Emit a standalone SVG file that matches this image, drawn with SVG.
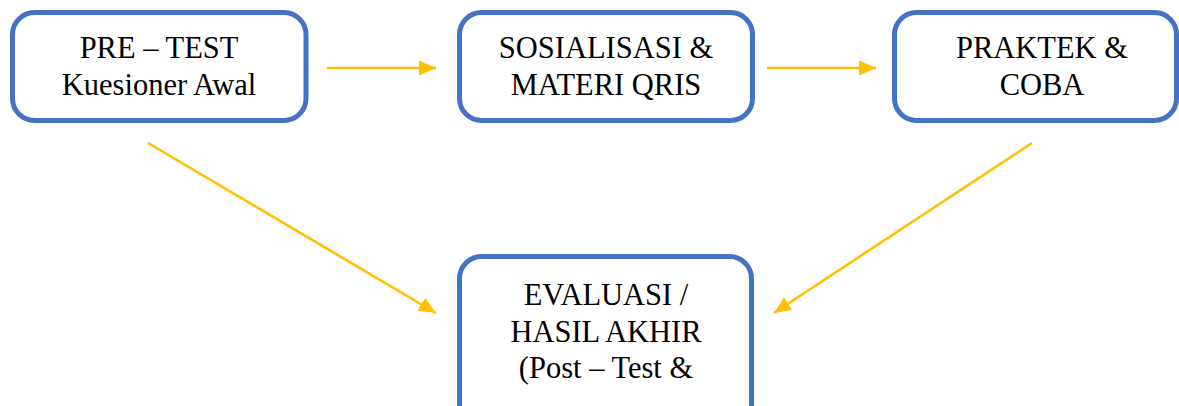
<svg xmlns="http://www.w3.org/2000/svg" width="1179" height="406" viewBox="0 0 1179 406">
<style>
.box{fill:#fff;stroke:#4472C4;stroke-width:5}
.c{stroke:#FFC000;stroke-width:2.6;fill:none}
</style>
<defs>
<marker id="ah" markerUnits="userSpaceOnUse" markerWidth="18" markerHeight="16" refX="17" refY="8" orient="auto">
<path d="M0,0.5 L17,8 L0,15.5 z" fill="#FFC000"/>
</marker>
</defs>
<rect width="1179" height="406" fill="#fff"/>
<g font-family="Liberation Serif, DejaVu Serif, serif" font-size="30.5" fill="#000" text-anchor="middle">
<g id="n1">
<rect class="box" x="12.5" y="12.5" width="293.5" height="108" rx="22"/>
<text x="159" y="58">PRE – TEST</text>
<text x="159" y="95">Kuesioner Awal</text>
</g>
<g id="n2">
<rect class="box" x="459.5" y="12.5" width="293" height="108" rx="22"/>
<text x="606" y="58">SOSIALISASI &amp;</text>
<text x="606" y="95">MATERI QRIS</text>
</g>
<g id="n3">
<rect class="box" x="894.5" y="12.5" width="282" height="108" rx="22"/>
<text x="1042" y="58">PRAKTEK &amp;</text>
<text x="1042" y="95">COBA</text>
</g>
<g id="n4">
<rect class="box" x="459.5" y="256.5" width="292" height="170" rx="22"/>
<text x="606" y="305">EVALUASI /</text>
<text x="606" y="341.5">HASIL AKHIR</text>
<text x="606" y="377.5">(Post – Test &amp;</text>
</g>
</g>
<g id="connectors">
<line class="c" x1="327" y1="68" x2="436" y2="68" marker-end="url(#ah)"/>
<line class="c" x1="767" y1="68" x2="876" y2="68" marker-end="url(#ah)"/>
<line class="c" x1="148" y1="143" x2="436" y2="313" marker-end="url(#ah)"/>
<line class="c" x1="1032" y1="143" x2="774" y2="313" marker-end="url(#ah)"/>
</g>
</svg>
